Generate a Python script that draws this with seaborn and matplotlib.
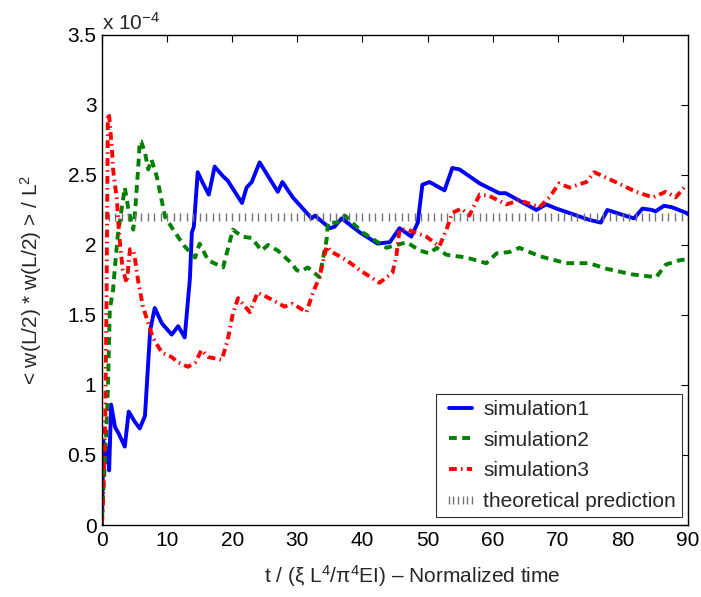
import numpy as np
import pandas as pd
import matplotlib
matplotlib.use("Agg")
import matplotlib.pyplot as plt
import seaborn as sns
from matplotlib.ticker import FuncFormatter

# ---- data (values in units of 1e-4) ----
sim1_t = [0, 0.2, 0.5, 0.8, 1.1, 1.4, 2.0, 2.6, 3.5, 4.1, 5.0, 5.8, 6.6, 7.4, 8.1, 9.2, 10.7, 11.7,
          12.7, 13.5, 13.8, 14.1, 14.7, 15.3, 16.4, 17.3, 18.6, 19.3, 21.5, 22.2, 23.0, 24.2, 27.0,
          27.7, 29.3, 32.2, 32.7, 35.0, 35.7, 36.8, 39.6, 42.3, 44.2, 45.7, 47.5, 48.5, 49.2, 50.3,
          52.6, 53.8, 54.9, 58.0, 61.0, 62.0, 66.7, 68.2, 69.8, 74.8, 76.6, 77.6, 81.7, 83.0, 84.5,
          85.0, 86.3, 87.5, 89.7, 90.0]
sim1_v = [0, 0.60, 0.45, 0.55, 0.39, 0.86, 0.70, 0.65, 0.56, 0.81, 0.74, 0.69, 0.78, 1.39, 1.55, 1.44,
          1.36, 1.42, 1.34, 1.76, 2.09, 2.13, 2.52, 2.46, 2.36, 2.56, 2.49, 2.46, 2.30, 2.41, 2.45, 2.59,
          2.38, 2.45, 2.34, 2.19, 2.21, 2.12, 2.13, 2.19, 2.09, 2.01, 2.02, 2.12, 2.06, 2.16, 2.43, 2.45,
          2.39, 2.55, 2.54, 2.44, 2.37, 2.37, 2.25, 2.29, 2.26, 2.18, 2.16, 2.25, 2.19, 2.26, 2.25, 2.24,
          2.28, 2.27, 2.23, 2.22]

sim2_t = [0, 0.5, 0.9, 1.2, 1.7, 2.0, 2.4, 3.5, 4.0, 4.5, 4.8, 5.1, 5.6, 5.8, 6.0, 6.6, 7.1, 7.6, 8.4,
          9.7, 11.2, 12.7, 14.3, 15.0, 16.3, 18.6, 20.1, 21.5, 23.0, 24.5, 25.5, 27.0, 29.1, 29.9, 30.5,
          31.6, 33.4, 34.5, 34.7, 36.2, 37.3, 40.0, 43.7, 46.8, 48.8, 50.3, 51.4, 52.9, 56.0, 59.0, 60.6,
          62.6, 64.1, 67.2, 71.3, 74.8, 77.5, 81.4, 85.1, 86.6, 88.6, 90.0]
sim2_v = [0.06, 0.49, 0.96, 1.54, 1.68, 1.85, 2.06, 2.41, 2.27, 2.16, 2.11, 2.25, 2.58, 2.74, 2.74, 2.66,
          2.54, 2.61, 2.49, 2.20, 2.09, 1.99, 1.91, 2.01, 1.89, 1.84, 2.11, 2.06, 2.05, 1.96, 2.00, 1.96,
          1.87, 1.82, 1.81, 1.84, 1.77, 2.04, 2.16, 2.16, 2.21, 2.09, 1.98, 2.02, 1.96, 1.94, 1.98, 1.93,
          1.91, 1.87, 1.94, 1.95, 1.98, 1.92, 1.87, 1.87, 1.83, 1.79, 1.77, 1.86, 1.89, 1.90]

sim3_t = [0, 0.2, 0.5, 0.7, 0.9, 1.1, 1.5, 1.7, 2.3, 2.5, 2.8, 3.2, 3.8, 4.3, 4.8, 5.1, 5.6, 6.3, 7.1,
          7.8, 9.2, 10.7, 11.7, 13.2, 14.3, 15.3, 16.3, 17.3, 18.4, 19.3, 20.1, 20.9, 22.7, 23.9, 26.1,
          28.0, 29.3, 31.4, 32.4, 33.4, 34.5, 35.3, 37.6, 39.6, 42.6, 44.6, 45.2, 45.7, 46.9, 49.8, 51.8,
          52.9, 53.8, 55.2, 56.4, 58.0, 59.5, 62.1, 64.1, 67.2, 68.7, 70.2, 71.8, 74.4, 75.6, 78.4, 82.0,
          84.6, 86.6, 88.1, 89.4, 90.0]
sim3_v = [0.01, 0.23, 0.77, 1.61, 2.94, 2.92, 2.70, 2.54, 2.32, 2.16, 1.99, 1.82, 1.73, 1.97, 1.96, 1.89,
          1.73, 1.56, 1.44, 1.34, 1.23, 1.20, 1.16, 1.13, 1.16, 1.25, 1.20, 1.19, 1.18, 1.32, 1.51, 1.62,
          1.52, 1.66, 1.61, 1.56, 1.58, 1.52, 1.66, 1.77, 1.99, 1.95, 1.89, 1.82, 1.73, 1.80, 1.92, 2.11,
          2.11, 2.06, 1.99, 2.11, 2.23, 2.26, 2.21, 2.36, 2.35, 2.29, 2.32, 2.27, 2.34, 2.44, 2.41, 2.45,
          2.52, 2.46, 2.38, 2.34, 2.38, 2.34, 2.41, 2.42]

theory_value = 2.2
theory_t = np.arange(0, 90.5, 1.0)

labels = ["simulation1", "simulation2", "simulation3", "theoretical prediction"]
x_ticks = list(range(0, 91, 10))
y_ticks = [0, 0.5, 1, 1.5, 2, 2.5, 3, 3.5]

# ---- plotting ----
sns.set_theme(style="white")
plt.rcParams['font.family'] = ['Liberation Sans', 'DejaVu Sans']
plt.rcParams['mathtext.fontset'] = 'custom'
plt.rcParams['mathtext.rm'] = 'Liberation Sans'
plt.rcParams['mathtext.it'] = 'Liberation Sans:italic'

fig = plt.figure(figsize=(7.01, 5.97), dpi=100)
ax = fig.add_axes([0.1455, 0.1206, 0.8360, 0.8208])

sns.lineplot(x=sim1_t, y=sim1_v, ax=ax, color=(0, 0, 1), lw=2.8, label=labels[0],
             estimator=None, sort=False)
sns.lineplot(x=sim2_t, y=sim2_v, ax=ax, color=(0, 0.5, 0), lw=2.8, label=labels[1],
             estimator=None, sort=False, linestyle=(0, (2.0, 1.4)))
sns.lineplot(x=sim3_t, y=sim3_v, ax=ax, color=(1, 0, 0), lw=2.8, label=labels[2],
             estimator=None, sort=False, linestyle=(0, (2.0, 1.1, 0.4, 1.1)))
sns.lineplot(x=theory_t, y=[theory_value] * len(theory_t), ax=ax, color=(0.5, 0.5, 0.5),
             linestyle='none', marker='|', markersize=6, markeredgewidth=1.0,
             markeredgecolor=(0.45, 0.45, 0.45), markerfacecolor=(0.45, 0.45, 0.45),
             label=labels[3], estimator=None)

ax.set_xlim(0, 90)
ax.set_ylim(0, 3.5)
ax.set_xticks(x_ticks)
ax.set_yticks(y_ticks)
ax.yaxis.set_major_formatter(FuncFormatter(lambda v, p: f"{v:g}"))
ax.tick_params(direction='in', length=5, width=0.8, top=True, right=True,
               labelsize=15, colors='black', pad=4)
for s in ax.spines.values():
    s.set_color('black')
    s.set_linewidth(1.0)

ax.set_xlabel('t / (ξ L$^4$/π$^4$EI) – Normalized time', fontsize=15)
ax.xaxis.set_label_coords(0.53, -0.078)
ax.xaxis.label.set_va('top')
ax.set_ylabel('< w(L/2) * w(L/2) > / L$^2$', fontsize=15, labelpad=17)
ax.text(0, 1.01, r'x 10$^{-4}$', transform=ax.transAxes, ha='left', va='baseline', fontsize=15)

leg = ax.legend(loc='lower right', bbox_to_anchor=(0.99, 0.016), borderaxespad=0,
                fontsize=15, frameon=True, fancybox=False, handlelength=1.7,
                handletextpad=0.25, labelspacing=0.56, borderpad=0.3, numpoints=6)
leg.get_frame().set_edgecolor('black')
leg.get_frame().set_linewidth(0.8)

fig.savefig("out.png", dpi=100)
